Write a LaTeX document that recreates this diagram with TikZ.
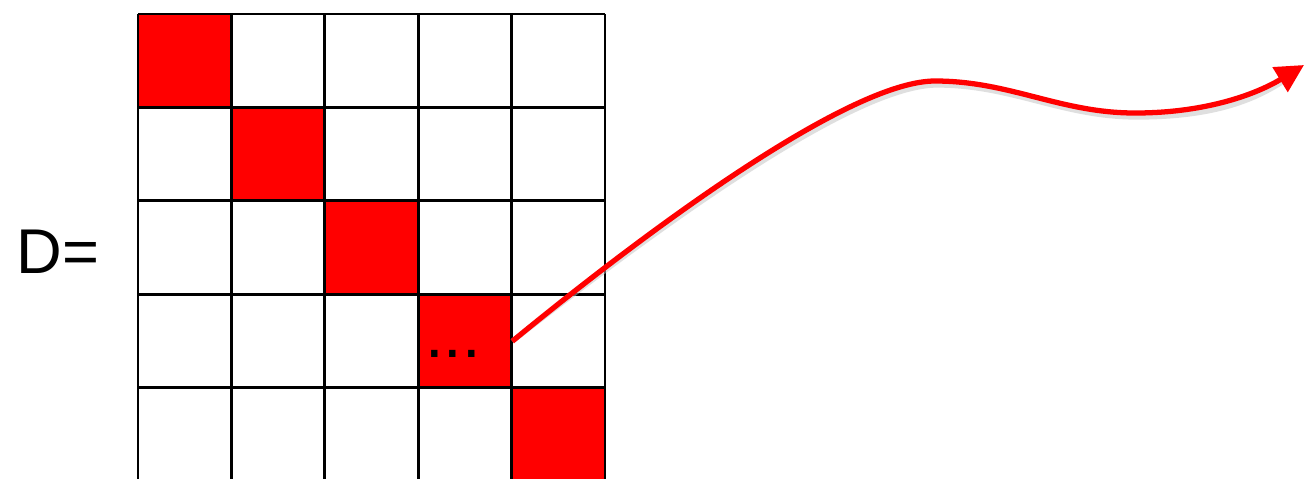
\documentclass[tikz,border=0pt]{standalone}
\usepackage{fontspec}
\setmainfont{Liberation Sans}
\definecolor{mxred}{RGB}{255,0,0}
\usetikzlibrary{arrows.meta}

\begin{document}
\begin{tikzpicture}[x=0.02cm, y=-0.02cm,
  cellfill/.style={fill=mxred, minimum size=1.868cm, inner sep=0pt, anchor=north west},
  gridline/.style={line width=1.5pt, black},
  bigtxt/.style={font=\fontsize{36}{40}\selectfont, inner sep=0pt}]

\useasboundingbox (0,0) rectangle (1304,478);

% label
\node[bigtxt, anchor=base] (dlabel) at (58,273) {D=};

% --- Diagonal cells ---
\foreach \i in {0,...,4}
  \node[cellfill] (cell\i) at ({138+93.4*\i},{14+93.4*\i}) {};

% --- Grid ---
\foreach \i in {0,...,5} {
  \draw[gridline] ({138+93.4*\i},14) -- ({138+93.4*\i},481);
  \draw[gridline] (138,{14+93.4*\i}) -- (605,{14+93.4*\i});
}

\node[bigtxt, anchor=base] (dots) at (453,357) {\fontsize{38}{40}\selectfont...};

% --- Curved arrow ---
\coordinate (tipend) at (1304,65);
\draw[black!25, line width=3pt, opacity=0.5, shift={(2,4)}]
  (cell3.east) .. controls (650,228) and (850,81) .. (935,81)
  .. controls (1010,81) and (1060,113) .. (1135,113)
  .. controls (1210,113) and (1250,97) .. (1280,78);
\draw[mxred, line width=3pt, -{Triangle[length=16pt,width=16pt]}]
  (cell3.east) .. controls (650,228) and (850,81) .. (935,81)
  .. controls (1010,81) and (1060,113) .. (1135,113)
  .. controls (1210,113) and (1260,92) .. (tipend);

\end{tikzpicture}
\end{document}
